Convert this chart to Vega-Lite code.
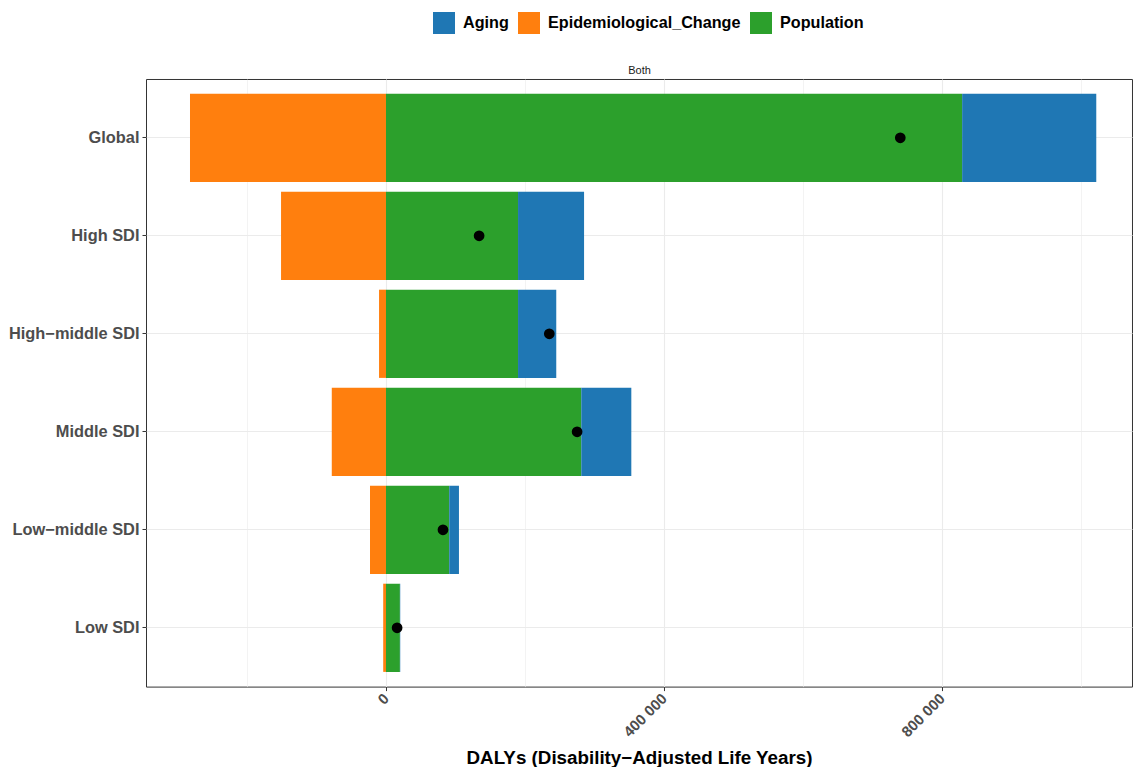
{
  "$schema": "https://vega.github.io/schema/vega-lite/v6.json",
  "autosize": {"type": "none"},
  "padding": {"left": 146, "top": 79, "right": 1, "bottom": 80},
  "width": 986,
  "height": 607.6,
  "background": "white",
  "data": {
    "values": [
      {"location": "Global", "component": "Epidemiological_Change", "value": -282000},
      {"location": "Global", "component": "Population", "value": 829000},
      {"location": "Global", "component": "Aging", "value": 193000},
      {"location": "Global", "component": "Total", "value": 740000},
      {"location": "High SDI", "component": "Epidemiological_Change", "value": -151000},
      {"location": "High SDI", "component": "Population", "value": 190000},
      {"location": "High SDI", "component": "Aging", "value": 95000},
      {"location": "High SDI", "component": "Total", "value": 134000},
      {"location": "High−middle SDI", "component": "Epidemiological_Change", "value": -10000},
      {"location": "High−middle SDI", "component": "Population", "value": 190000},
      {"location": "High−middle SDI", "component": "Aging", "value": 55000},
      {"location": "High−middle SDI", "component": "Total", "value": 235000},
      {"location": "Middle SDI", "component": "Epidemiological_Change", "value": -78000},
      {"location": "Middle SDI", "component": "Population", "value": 281000},
      {"location": "Middle SDI", "component": "Aging", "value": 72000},
      {"location": "Middle SDI", "component": "Total", "value": 275000},
      {"location": "Low−middle SDI", "component": "Epidemiological_Change", "value": -23000},
      {"location": "Low−middle SDI", "component": "Population", "value": 91000},
      {"location": "Low−middle SDI", "component": "Aging", "value": 14000},
      {"location": "Low−middle SDI", "component": "Total", "value": 82000},
      {"location": "Low SDI", "component": "Epidemiological_Change", "value": -4000},
      {"location": "Low SDI", "component": "Population", "value": 20000},
      {"location": "Low SDI", "component": "Aging", "value": 500},
      {"location": "Low SDI", "component": "Total", "value": 16000}
    ]
  },
  "encoding": {
    "y": {
      "field": "location",
      "type": "nominal",
      "sort": ["Global", "High SDI", "High−middle SDI", "Middle SDI", "Low−middle SDI", "Low SDI"],
      "scale": {"paddingInner": 0.1, "paddingOuter": 0.15},
      "axis": {
        "title": null,
        "labelFont": "Liberation Sans",
        "labelFontSize": 16.4,
        "labelFontWeight": "bold",
        "labelColor": "#4d4d4d",
        "labelPadding": 3,
        "labelLimit": 300,
        "tickSize": 4,
        "tickColor": "#333333",
        "domain": false,
        "grid": true,
        "gridColor": "#ebebeb",
        "gridWidth": 1.1
      }
    }
  },
  "layer": [
    {
      "transform": [{"filter": "datum.component != 'Total'"}],
      "mark": {"type": "bar"},
      "encoding": {
        "x": {
          "field": "value",
          "type": "quantitative",
          "stack": "zero",
          "scale": {"domain": [-345300, 1073400], "nice": false, "zero": false},
          "axis": {
            "orient": "bottom",
            "title": "DALYs (Disability−Adjusted Life Years)",
            "titleFont": "Liberation Sans",
            "titleFontSize": 18.8,
            "titleFontWeight": "bold",
            "titleColor": "black",
            "titlePadding": 9,
            "values": [-200000, 0, 200000, 400000, 600000, 800000, 1000000],
            "labelExpr": "datum.value == 0 ? '0' : datum.value == 400000 ? '400 000' : datum.value == 800000 ? '800 000' : ''",
            "labelFont": "Liberation Sans",
            "labelFontSize": 15,
            "labelFontWeight": "bold",
            "labelColor": "#4d4d4d",
            "labelAngle": -45,
            "labelAlign": "right",
            "labelBaseline": "middle",
            "labelPadding": 5,
            "tickSize": 4,
            "tickColor": "#333333",
            "tickOpacity": {"condition": {"test": "datum.value % 400000 == 0", "value": 1}, "value": 0},
            "domain": false,
            "grid": true,
            "gridColor": "#ebebeb",
            "gridWidth": {"condition": {"test": "datum.value % 400000 == 0", "value": 1.1}, "value": 0.6}
          }
        },
        "color": {
          "field": "component",
          "type": "nominal",
          "scale": {
            "domain": ["Aging", "Epidemiological_Change", "Population"],
            "range": ["#1f77b4", "#ff7f0e", "#2ca02c"]
          },
          "legend": {
            "title": null,
            "orient": "none",
            "direction": "horizontal",
            "legendX": 287,
            "legendY": -67,
            "padding": 0,
            "symbolType": "square",
            "symbolSize": 484,
            "symbolStrokeWidth": 0,
            "symbolOpacity": 1,
            "labelFont": "Liberation Sans",
            "labelFontSize": 16.2,
            "labelFontWeight": "bold",
            "labelColor": "black",
            "labelLimit": 400,
            "labelOffset": 8,
            "columnPadding": 9
          }
        },
        "order": {"field": "component", "sort": "descending"}
      }
    },
    {
      "transform": [{"filter": "datum.component == 'Total'"}],
      "mark": {"type": "point", "filled": true, "shape": "circle", "color": "black", "opacity": 1},
      "encoding": {
        "x": {
          "field": "value",
          "type": "quantitative",
          "axis": {
            "orient": "top",
            "title": "Both",
            "titleFont": "Liberation Sans",
            "titleFontSize": 11,
            "titleFontWeight": "normal",
            "titleColor": "#1a1a1a",
            "titlePadding": 3,
            "labels": false,
            "ticks": false,
            "domain": false,
            "grid": false
          }
        },
        "size": {"value": 115}
      }
    }
  ],
  "resolve": {"axis": {"x": "independent"}},
  "config": {
    "view": {"stroke": "#333333", "strokeWidth": 1}
  }
}
